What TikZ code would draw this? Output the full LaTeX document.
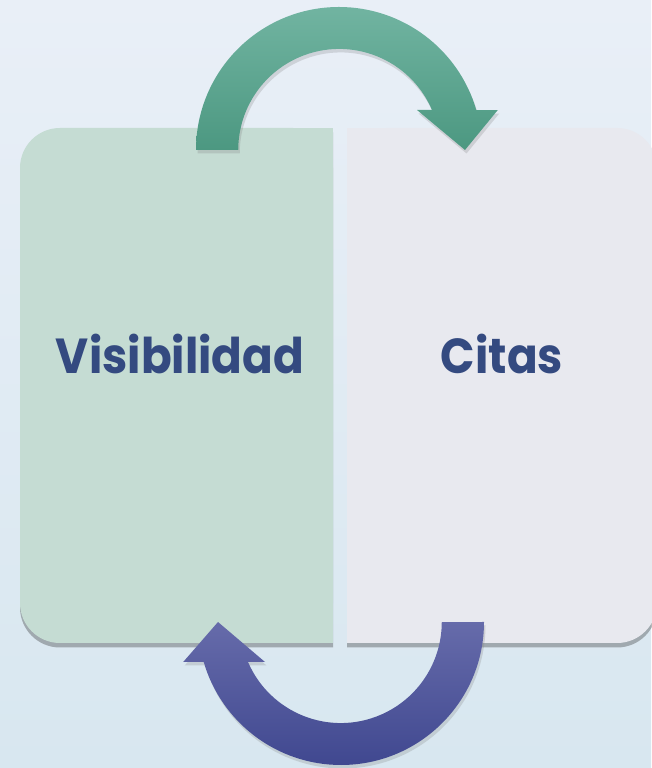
\documentclass[tikz,border=0pt]{standalone}
\usepackage{fontspec}
\setmainfont{Poppins}
\newfontfamily\panelfont{Poppins}[FakeStretch=0.92]
\usepackage{xcolor}
\usetikzlibrary{positioning,calc,shadows}

\definecolor{bgtop}{RGB}{233,239,247}
\definecolor{bgbot}{RGB}{216,231,240}
\definecolor{visgreen}{RGB}{197,220,211}
\definecolor{citgrey}{RGB}{232,233,239}
\definecolor{labelblue}{RGB}{52,74,128}
\definecolor{greentop}{RGB}{113,180,161}
\definecolor{greenbot}{RGB}{76,152,129}
\definecolor{bluetop}{RGB}{102,107,170}
\definecolor{bluebot}{RGB}{64,72,144}

\begin{document}
\begin{tikzpicture}[
  panel/.style={inner sep=0pt,outer sep=0pt,minimum height=10.30cm},
  panel shadow/.style={fill=black!85,opacity=0.32,rounded corners=0.8cm},
  panel label/.style={font=\panelfont\bfseries\fontsize{28}{34}\selectfont,text=labelblue},
  cycle arrow/.style={drop shadow={shadow xshift=0.03cm,shadow yshift=-0.07cm,opacity=0.25}}]
  % canvas
  \useasboundingbox (0,0) rectangle (13.02,15.36);
  \shade[top color=bgtop,bottom color=bgbot] (0,0) rectangle (13.02,15.36);

  % the two panels
  \node[panel,minimum width=6.26cm] (vis) at (3.53,7.65) {};
  \node[panel,minimum width=6.20cm] (cit) at (10.04,7.65) {};

  \fill[panel shadow] ([yshift=-0.09cm]vis.south west) rectangle ([yshift=-0.09cm]vis.north east)
    [sharp corners] ([yshift=-0.09cm]vis.south) rectangle ([yshift=-0.09cm]vis.north east);
  \fill[panel shadow] ([yshift=-0.09cm]cit.south west) rectangle ([yshift=-0.09cm]cit.north east)
    [sharp corners] ([yshift=-0.09cm]cit.south west) rectangle ([yshift=-0.09cm]cit.north);

  \fill[visgreen,rounded corners=0.8cm] (vis.south west) rectangle (vis.north east);
  \fill[visgreen] (vis.south) rectangle (vis.north east);
  \fill[citgrey,rounded corners=0.8cm] (cit.south west) rectangle (cit.north east);
  \fill[citgrey] (cit.south west) rectangle (cit.north);

  \node[panel label] (vistext) at ([xshift=0.07cm,yshift=0.64cm]vis.center) {Visibilidad};
  \node[panel label] (cittext) at ([yshift=0.64cm]cit.center) {Citas};

  % arc centres
  \coordinate (topc) at (6.78,12.36);
  \coordinate (botc) at (6.82,2.92);

  % green arrow: Visibilidad -> Citas
  \shade[top color=greentop,bottom color=greenbot,cycle arrow]
    ($(topc)+(-2.86,0)$) arc[start angle=180,end angle=16.24,radius=2.86]
    -- ++(0.43,0) -- (9.30,12.36) -- (8.34,13.16) -- (8.64,13.16)
    arc[start angle=23.3,end angle=180,radius=2.02] -- cycle;

  % blue arrow: Citas -> Visibilidad
  \shade[top color=bluetop,bottom color=bluebot,cycle arrow]
    ($(botc)+(2.86,0)$) arc[start angle=0,end angle=-163.76,radius=2.86]
    -- ++(-0.41,0) -- (4.36,2.92) -- (5.30,2.12) -- (4.96,2.12)
    arc[start angle=-156.7,end angle=0,radius=2.02] -- cycle;
\end{tikzpicture}
\end{document}
